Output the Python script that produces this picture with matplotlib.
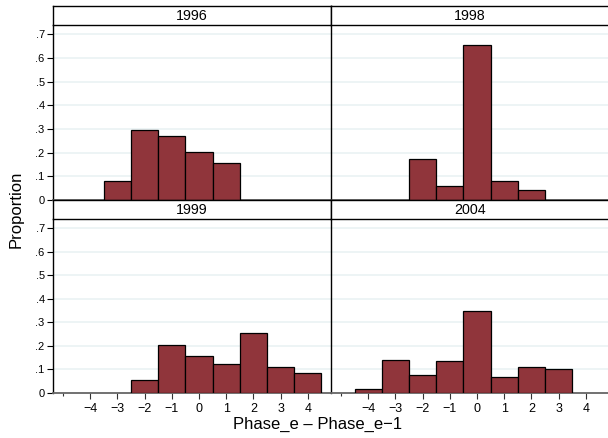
import matplotlib
matplotlib.use("Agg")
import matplotlib.pyplot as plt
import numpy as np

plt.rcParams['font.family'] = ['Liberation Sans', 'DejaVu Sans']

# histogram data: bin centres and proportions per year
x_1996 = [-3, -2, -1, 0, 1]
p_1996 = [0.082, 0.295, 0.271, 0.202, 0.157]

x_1998 = [-2, -1, 0, 1, 2]
p_1998 = [0.172, 0.059, 0.655, 0.080, 0.041]

x_1999 = [-2, -1, 0, 1, 2, 3, 4]
p_1999 = [0.057, 0.206, 0.159, 0.122, 0.257, 0.112, 0.085]

x_2004 = [-4, -3, -2, -1, 0, 1, 2, 3]
p_2004 = [0.019, 0.142, 0.075, 0.135, 0.348, 0.068, 0.110, 0.101]

panels = [("1996", x_1996, p_1996), ("1998", x_1998, p_1998),
          ("1999", x_1999, p_1999), ("2004", x_2004, p_2004)]

y_ticks = [0, 0.1, 0.2, 0.3, 0.4, 0.5, 0.6, 0.7]
y_labels = ["0", ".1", ".2", ".3", ".4", ".5", ".6", ".7"]
x_ticks = [-4, -3, -2, -1, 0, 1, 2, 3, 4]
x_labels = ["\u22124", "\u22123", "\u22122", "\u22121", "0", "1", "2", "3", "4"]

bar_color = "#90353B"
grid_color = "#EAF2F3"

W, H = 608, 438
fig = plt.figure(figsize=(W / 100, H / 100), dpi=100)

def fx(px):
    return px / W

def fy(py):
    return 1 - py / H

col_left = [53, 331]
panel_w = 278
rows = [(25, 200), (219, 393)]   # plot area top/bottom in pixels
strip_h = 19

for i, (title, xs, ps) in enumerate(panels):
    r, c = divmod(i, 2)
    left = col_left[c]
    top, bottom = rows[r]
    ax = fig.add_axes([fx(left), fy(bottom), fx(panel_w), (bottom - top) / H])
    ax.bar(xs, ps, width=1.0, color=bar_color, edgecolor="black", linewidth=0.9, zorder=3)
    ax.set_xlim(-5.37, 4.85)
    ax.set_ylim(0, 0.74)
    ax.set_yticks(y_ticks)
    for yv in y_ticks[1:]:
        ax.axhline(yv, color=grid_color, lw=1.2, zorder=1)
    for s in ["top", "right"]:
        ax.spines[s].set_visible(False)
    ax.spines["left"].set_color("black")
    ax.spines["left"].set_linewidth(1.0)
    ax.spines["bottom"].set_color("#666666")
    ax.spines["bottom"].set_linewidth(1.3)
    if c == 0:
        ax.set_yticklabels(y_labels, fontsize=8)
        ax.tick_params(axis="y", length=4, width=0.8, pad=2, colors="black")
    else:
        ax.tick_params(axis="y", length=0, labelleft=False)
    if r == 1:
        ax.set_xticks(x_ticks)
        ax.set_xticklabels(x_labels, fontsize=9)
        ax.set_xticks([-5], minor=True)
        ax.tick_params(axis="x", which="major", length=4, width=0.8, pad=3, color="#333333")
        ax.tick_params(axis="x", which="minor", length=2, width=0.8, color="#333333")
    else:
        ax.set_xticks([])
    # strip with panel title
    sax = fig.add_axes([fx(left), fy(top), fx(panel_w), strip_h / H])
    sax.set_xticks([])
    sax.set_yticks([])
    for s in sax.spines.values():
        s.set_color("black")
        s.set_linewidth(1.0)
    sax.text(0.5, 0.48, title, ha="center", va="center", fontsize=10.3, transform=sax.transAxes)

fig.text(fx(318), fy(424), "Phase_e \u2013 Phase_e\u22121", ha="center", va="center", fontsize=12)
fig.text(fx(16), fy(209), "Proportion", ha="center", va="center", rotation=90, fontsize=12)

fig.savefig("out.png", dpi=100)
